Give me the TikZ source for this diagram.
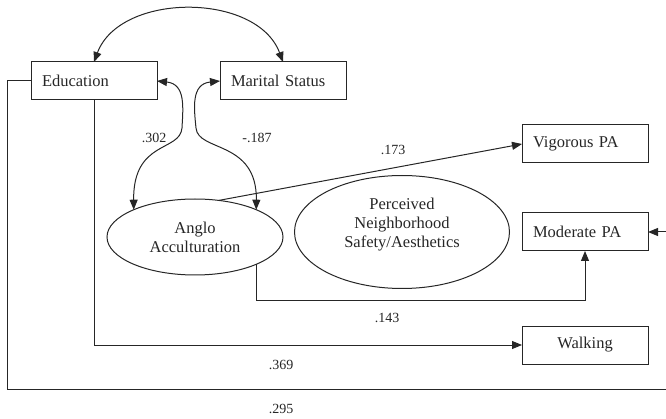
\documentclass[tikz,border=0pt]{standalone}
\usepackage{fontspec}
\setmainfont{Liberation Serif}
\usetikzlibrary{shapes,arrows.meta,positioning}

\begin{document}
\begin{tikzpicture}[x=1pt,y=-1pt]
 \tikzset{var node/.style={rectangle, draw, line width=1pt,
 		minimum width=126pt, minimum height=38pt, outer sep=0pt,
 		text width=104pt, align=left, inner xsep=11pt,
 		font=\fontsize{16.5}{19}\selectfont}, }
 \tikzset{latent node/.style={ellipse, draw, line width=1pt,
 		inner sep=0pt, outer sep=0pt, align=center,
 		font=\fontsize{16.5}{19}\selectfont}, }
 \tikzset{coef node/.style={font=\fontsize{14}{16}\selectfont}, }
 \tikzset{linea/.style={-{Triangle[length=10pt,width=8pt]}, line width=1pt},}
 \tikzset{covar/.style={{Triangle[length=10pt,width=8pt]}-{Triangle[length=10pt,width=8pt]}, line width=1pt},}
 \useasboundingbox (0,0) rectangle (666,419);
 \clip (0,0) rectangle (666,419);
 \begin{scope}[black!85]
 \node[var node] (edu) at (94,81) {Education};
 \node[var node] (mar) at (283,81) {Marital Status};
 \node[var node] (vig) at (585,144) {Vigorous PA};
 \node[var node] (mod) at (585,232) {Moderate PA};
 \node[var node, align=center] (walk) at (585,345) {Walking};
 \node[latent node, minimum width=176pt, minimum height=76pt] (anglo) at (195,237)
 	{Anglo\\Acculturation};
 \node[latent node, minimum width=215pt, minimum height=113pt] (safe) at (402,232)
 	{Perceived\\Neighborhood\\Safety/Aesthetics\\ \mbox{}};

 \coordinate (bendA) at (585,301);
 \coordinate (loopL) at (7,389);
 \coordinate (loopR) at (680,389);

 \draw[covar] (edu.north) .. controls (120,-8) and (257,-8) .. (mar.north);
 \draw[covar] (edu.east) .. controls (186,84) and (183,108) .. (182,128)
 	.. controls (180,152) and (133,140) .. (anglo.156);
 \draw[covar] (mar.west) .. controls (191,84) and (194,108) .. (196,128)
 	.. controls (198,152) and (257,140) .. (anglo.24);
 \draw[linea] (anglo.57) -- (vig.west);
 \draw[linea] (anglo.-24) |- (bendA) -- (mod.south);
 \draw[linea] (edu.south) |- (walk.west);
 \draw[linea] (edu.west) -| (loopL) -- (loopR) |- (mod.east);

 \node[coef node] (c1) at (154,138) {.302};
 \node[coef node] (c2) at (257,138) {-.187};
 \node[coef node] (c3) at (393,150) {.173};
 \node[coef node] (c4) at (387,318) {.143};
 \node[coef node] (c5) at (281,365) {.369};
 \node[coef node] (c6) at (281,409) {.295};
 \end{scope}
% %%
\end{tikzpicture}
\end{document}
